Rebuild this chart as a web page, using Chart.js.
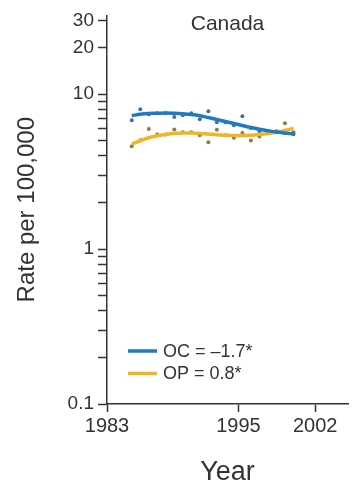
<!DOCTYPE html>
<html>
<head>
<meta charset="utf-8">
<script src="https://cdn.jsdelivr.net/npm/chart.js@4.4.1/dist/chart.umd.min.js"></script>
<style>
  html, body { margin: 0; padding: 0; background: #fff; }
  canvas { display: block; }
</style>
</head>
<body>
<canvas id="chartCanada" width="352" height="489"></canvas>
<script>
// Canada - taux par 100 000 (échelle log), OC vs OP
const years = [1983, 1984, 1985, 1986, 1987, 1988, 1989, 1990, 1991, 1992,
               1993, 1994, 1995, 1996, 1997, 1998, 1999, 2000, 2001, 2002];
const ocRates  = [6.79, 8.0, 7.43, 7.54, 7.54, 7.14, 7.32, 7.54, 6.90, 7.77,
                  6.60, 6.60, 6.31, 7.21, 6.06, 5.77, 5.63, 5.77, 5.63, 5.52];
const opRates  = [4.62, 5.05, 5.97, 5.50, 5.50, 5.92, 5.69, 5.69, 5.44, 4.90,
                  5.90, 5.44, 5.23, 5.63, 5.03, 5.33, 5.60, 5.69, 6.50, 5.69];
const ocTrend  = [7.27, 7.43, 7.51, 7.54, 7.57, 7.54, 7.48, 7.40, 7.27, 7.07,
                  6.87, 6.67, 6.47, 6.28, 6.10, 5.95, 5.82, 5.70, 5.62, 5.55];
const opTrend  = [4.76, 5.01, 5.24, 5.40, 5.50, 5.58, 5.62, 5.62, 5.59, 5.54,
                  5.48, 5.44, 5.41, 5.41, 5.44, 5.50, 5.58, 5.69, 5.83, 6.03];
const seriesLabels = ['OC = \u20131.7*', 'OP = 0.8*'];
const yTicks  = [0.1, 0.2, 0.3, 0.4, 0.5, 0.6, 0.7, 0.8, 0.9,
                 1, 2, 3, 4, 5, 6, 7, 8, 9, 10, 20, 30];
const yLabels = [0.1, 1, 10, 20, 30];
const xTicks  = [1983, 1995, 2002];
const panelTitle = 'Canada';

(function() {
    'use strict';

    const FONT = '"Liberation Sans", Arial, Helvetica, sans-serif';
    const INK = '#333';
    const BLUE = '#1f7ac4';
    const GOLD = '#efb526';

    const pts = arr => years.map((y, i) => ({ x: y, y: arr[i] }));

    // titre du panneau + légende dans la zone du graphique
    const panelText = {
        id: 'panelText',
        afterDatasetsDraw(chart) {
            const { ctx, chartArea } = chart;
            ctx.save();
            ctx.fillStyle = INK;
            ctx.font = '21px ' + FONT;
            ctx.textAlign = 'center';
            ctx.textBaseline = 'middle';
            ctx.fillText(panelTitle, (chartArea.left + chartArea.right) / 2, chartArea.top + 9);

            const colors = [BLUE, GOLD];
            ctx.font = '18px ' + FONT;
            ctx.textAlign = 'left';
            seriesLabels.forEach((lab, i) => {
                const y = chartArea.bottom - 53 + i * 22.5;
                ctx.strokeStyle = colors[i];
                ctx.lineWidth = 3.5;
                ctx.beginPath();
                ctx.moveTo(chartArea.left + 21, y);
                ctx.lineTo(chartArea.left + 50, y);
                ctx.stroke();
                ctx.fillStyle = INK;
                ctx.fillText(lab, chartArea.left + 56, y + 1);
            });
            ctx.restore();
        }
    };

    new Chart(document.getElementById('chartCanada'), {
        type: 'line',
        data: {
            datasets: [
                { label: seriesLabels[0], data: pts(ocTrend), xAxisID: 'xd',
                  borderColor: BLUE, borderWidth: 3.5, pointRadius: 0, tension: 0.4 },
                { label: seriesLabels[1], data: pts(opTrend), xAxisID: 'xd',
                  borderColor: GOLD, borderWidth: 3.5, pointRadius: 0, tension: 0.4 },
                { label: 'OC obs', data: pts(ocRates), xAxisID: 'xd', showLine: false,
                  pointRadius: 2, pointBackgroundColor: '#44709c', pointBorderWidth: 0 },
                { label: 'OP obs', data: pts(opRates), xAxisID: 'xd', showLine: false,
                  pointRadius: 2, pointBackgroundColor: '#8f7d3c', pointBorderWidth: 0 }
            ]
        },
        options: {
            responsive: false,
            animation: false,
            layout: { padding: { top: 15, right: 2, left: 0, bottom: 0 } },
            plugins: { legend: { display: false }, tooltip: { enabled: false } },
            scales: {
                xd: { type: 'linear', display: false, min: 1980.09, max: 2008.41 },
                x: {
                    type: 'linear', position: 'bottom', min: 1983, max: 2005,
                    afterBuildTicks: s => { s.ticks = xTicks.map(v => ({ value: v })); },
                    afterFit: s => { s.height = 85; },
                    grid: { drawOnChartArea: false, drawTicks: true, tickLength: 8, tickColor: INK, tickWidth: 1.5 },
                    border: { display: true, color: INK, width: 1.5 },
                    ticks: { autoSkip: false, maxRotation: 0, padding: 2, color: INK,
                             font: { family: FONT, size: 20 }, callback: v => String(v) },
                    title: { display: true, text: 'Year', color: INK,
                             font: { family: FONT, size: 27 }, padding: { top: 2, bottom: 0 } }
                },
                y: {
                    type: 'logarithmic', min: 0.1, max: 32.3,
                    afterBuildTicks: s => { s.ticks = yTicks.map(v => ({ value: v })); },
                    afterFit: s => { s.width = 107; },
                    grid: { drawOnChartArea: false, drawTicks: true, tickLength: 9, tickColor: INK, tickWidth: 1.5 },
                    border: { display: true, color: INK, width: 1.5 },
                    ticks: { autoSkip: false, padding: 4, color: INK,
                             font: { family: FONT, size: 19 },
                             callback: v => yLabels.includes(v) ? String(v) : '' },
                    title: { display: true, text: 'Rate per 100,000', color: INK,
                             font: { family: FONT, size: 24 }, padding: { top: 13, bottom: 0 } }
                }
            }
        },
        plugins: [panelText]
    });
})();
</script>
</body>
</html>
